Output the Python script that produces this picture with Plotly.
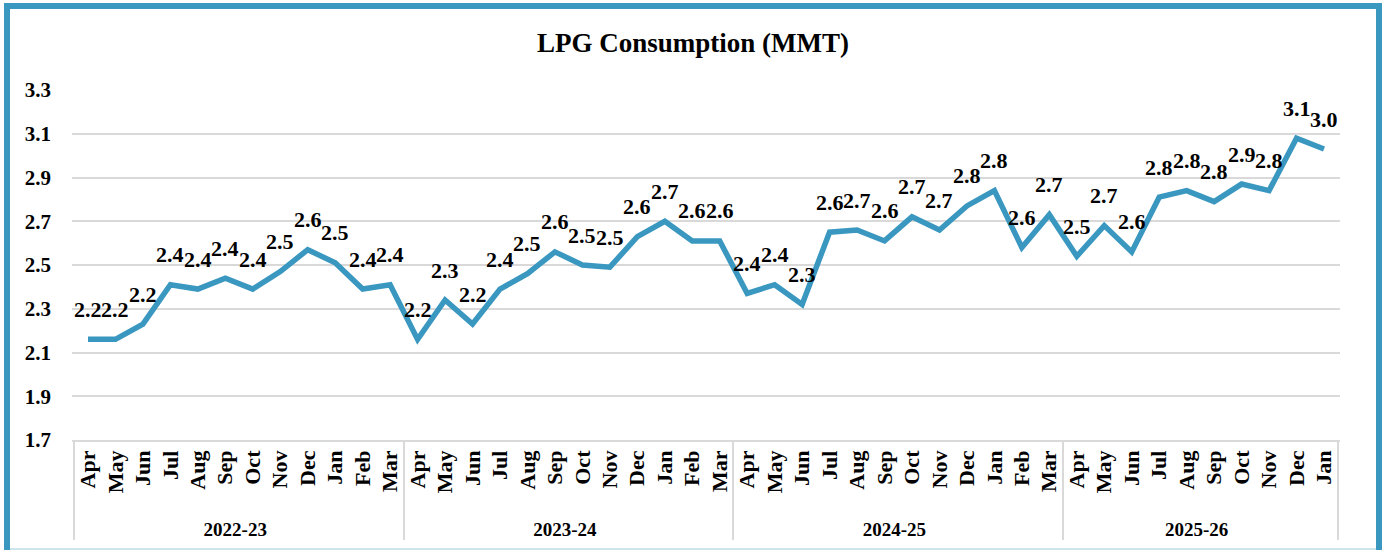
import plotly.graph_objects as go

# ---- data ----
years = ["2022-23", "2023-24", "2024-25", "2025-26"]
months_full = ["Apr", "May", "Jun", "Jul", "Aug", "Sep", "Oct", "Nov", "Dec", "Jan", "Feb", "Mar"]
months_per_year = [12, 12, 12, 10]

consumption = [
    2.16, 2.16, 2.23, 2.41, 2.39, 2.44, 2.39, 2.47, 2.57, 2.51, 2.39, 2.41,   # 2022-23
    2.16, 2.34, 2.23, 2.39, 2.46, 2.56, 2.50, 2.49, 2.63, 2.70, 2.61, 2.61,   # 2023-24
    2.37, 2.41, 2.32, 2.65, 2.66, 2.61, 2.72, 2.66, 2.77, 2.84, 2.58, 2.73,   # 2024-25
    2.54, 2.68, 2.56, 2.81, 2.84, 2.79, 2.87, 2.84, 3.08, 3.03,               # 2025-26
]
y_ticks = [1.7, 1.9, 2.1, 2.3, 2.5, 2.7, 2.9, 3.1, 3.3]

# ---- build multicategory axis ----
x_year, x_month = [], []
for yr, n in zip(years, months_per_year):
    for m in months_full[:n]:
        x_year.append(f'<span style="font-size:19px">{yr}</span>')
        x_month.append(m)

BLUE = "#3A97C0"
SERIF = "Liberation Serif"
W, H = 1386, 550
ML, MR, MT, MB = 72, 46, 90, 110
PW, PH = W - ML - MR, H - MT - MB

def px(xp):
    return (xp - ML) / PW

def py(yp):
    return (H - MB - yp) / PH

fig = go.Figure()
fig.add_trace(go.Scatter(
    x=[x_year, x_month],
    y=consumption,
    mode="lines",
    line=dict(color=BLUE, width=5.5),
    hoverinfo="skip",
    showlegend=False,
))

for xy, xm, v in zip(x_year, x_month, consumption):
    fig.add_annotation(
        x=[xy, xm], y=v, text=f"{v:.1f}", showarrow=False,
        yshift=30, font=dict(family=SERIF, size=22, color="#000000", weight="bold"),
    )

# outer frame
shapes = [
    dict(type="line", xref="paper", yref="paper", x0=px(7), x1=px(7), y0=py(6), y1=py(552),
         line=dict(color=BLUE, width=6)),
    dict(type="line", xref="paper", yref="paper", x0=px(4), x1=px(1382), y0=py(6), y1=py(6),
         line=dict(color=BLUE, width=6)),
    dict(type="line", xref="paper", yref="paper", x0=px(1379), x1=px(1379), y0=py(3), y1=py(552),
         line=dict(color=BLUE, width=6)),
    dict(type="line", xref="paper", yref="paper", x0=px(10), x1=px(1376), y0=py(549), y1=py(549),
         line=dict(color="#BFDCE8", width=1.5)),
]

fig.update_layout(
    width=W, height=H,
    margin=dict(l=ML, r=MR, t=MT, b=MB, autoexpand=False),
    paper_bgcolor="white", plot_bgcolor="white",
    title=dict(text="LPG Consumption (MMT)", xref="container", x=0.5,
               y=1 - 43 / H, yanchor="middle", xanchor="center",
               font=dict(family=SERIF, size=27, color="#000000", weight="bold")),
    font=dict(family=SERIF, color="#000000"),
    shapes=shapes,
)

fig.update_yaxes(
    range=[1.7, 3.3], tickvals=y_ticks, ticktext=[f"{t:.1f}" for t in y_ticks],
    showgrid=True, gridcolor="#D9D9D9", gridwidth=1.5, zeroline=False,
    showline=False, ticks="", ticklabelstandoff=20, automargin=False,
    tickfont=dict(family=SERIF, size=21, color="#000000", weight="bold"),
)

fig.update_xaxes(
    type="multicategory", tickangle=-90, automargin=False,
    showline=True, linecolor="#D9D9D9", linewidth=1.5,
    showdividers=True, dividercolor="#D9D9D9", dividerwidth=1.5,
    showgrid=False, ticks="",
    tickfont=dict(family=SERIF, size=22, color="#000000", weight="bold"),
)

fig.write_html(
    "out.html",
    config={"displayModeBar": False},
    post_script="document.body.style.margin='0';document.body.style.overflow='hidden';",
)
